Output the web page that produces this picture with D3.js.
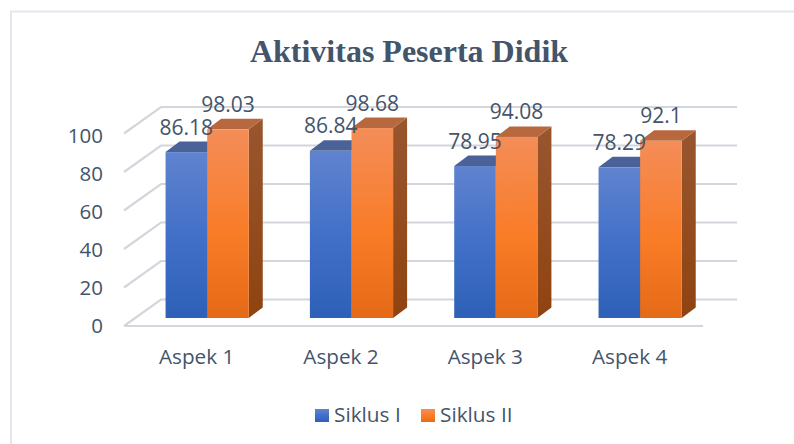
<!DOCTYPE html>
<html>
<head>
<meta charset="utf-8">
<script src="https://cdn.jsdelivr.net/npm/d3@7"></script>
<style>
  html, body { margin: 0; padding: 0; background: #fff; overflow: hidden; }
  svg { display: block; }
</style>
</head>
<body>
<div id="chart"></div>
<script>
const categories = ["Aspek 1", "Aspek 2", "Aspek 3", "Aspek 4"];
const seriesNames = ["Siklus I", "Siklus II"];
const siklus1 = [86.18, 86.84, 78.95, 78.29];
const siklus2 = [98.03, 98.68, 94.08, 92.1];
const yTicks = [0, 20, 40, 60, 80, 100];

const width = 794, height = 444;
const font = "'Open Sans', sans-serif";
const textColor = "#44546a";

// 3d offsets, wall depth and bar depth
const wallDx = 37, wallDy = 26.5;
const barDx = 14, barDy = 10.5;
const barLift = 18.5; // bar base sits this far below the back wall floor

const svg = d3.select("#chart").append("svg")
  .attr("width", width)
  .attr("height", height);

const defs = svg.append("defs");
function gradient(id, stops) {
  const g = defs.append("linearGradient").attr("id", id)
    .attr("x1", 0).attr("y1", 0).attr("x2", 0).attr("y2", 1);
  stops.forEach(function(s) {
    g.append("stop").attr("offset", s[0]).attr("stop-color", s[1]);
  });
}
gradient("front0", [[0, "#6083cf"], [0.5, "#4270c8"], [1, "#2e60b8"]]);
gradient("front1", [[0, "#f48d58"], [0.55, "#f97c27"], [1, "#e56a17"]]);
gradient("side0", [[0, "#46659f"], [1, "#1f4180"]]);
gradient("side1", [[0, "#98562f"], [1, "#8f4310"]]);
const topColor = ["#4a6298", "#b8683e"];

// chart frame, only top and left edges are inside the picture
svg.append("path")
  .attr("d", "M11," + height + "V11.5H" + width)
  .attr("fill", "none")
  .attr("stroke", "#e3e6ec")
  .attr("stroke-width", 2);

svg.append("text")
  .attr("x", 409).attr("y", 62)
  .attr("text-anchor", "middle")
  .attr("font-family", "'Liberation Serif', serif")
  .attr("font-weight", "bold")
  .attr("font-size", 32)
  .attr("fill", textColor)
  .text("Aktivitas Peserta Didik");

const x = d3.scaleBand().domain(categories).range([135, 712.3]);
const xSeries = d3.scaleBand().domain(seriesNames).range([-41.6, 41.6]);
const y = d3.scaleLinear().domain([0, 100]).range([299.5, 107]);
const yLabel = d3.scaleLinear().domain([0, 100]).range([333.3, 142.7]); // tick text baselines

// gridlines on the back wall and the left wall
const grid = svg.append("g")
  .attr("fill", "none")
  .attr("stroke", "#d3d6dc")
  .attr("stroke-width", 2.2);

grid.selectAll("polyline")
  .data(yTicks)
  .enter()
  .append("polyline")
  .attr("points", function(d) {
    const yy = y(d);
    return [[124, yy + wallDy], [124 + wallDx, yy], [737, yy]].join(" ");
  });

// floor front edge
grid.append("line")
  .attr("x1", 124).attr("x2", 703)
  .attr("y1", y(0) + wallDy).attr("y2", y(0) + wallDy);

// bars, one group per category
const groups = svg.selectAll(".group")
  .data(categories)
  .enter()
  .append("g")
  .attr("class", "group")
  .attr("transform", function(d) {
    return "translate(" + (x(d) + x.bandwidth() / 2) + ",0)";
  });

[siklus1, siklus2].forEach(function(values, s) {
  const bx = xSeries(seriesNames[s]);
  const bw = xSeries.bandwidth();
  const bar = groups.append("g").datum(function(d, i) { return values[i]; });

  // side face
  bar.append("path")
    .attr("fill", "url(#side" + s + ")")
    .attr("d", function(v) {
      const t = y(v) + barLift, b = y(0) + barLift;
      return "M" + (bx + bw) + "," + t + "l" + barDx + "," + (-barDy) +
        "L" + (bx + bw + barDx) + "," + (b - barDy) + "L" + (bx + bw) + "," + b + "Z";
    });
  // top face
  bar.append("path")
    .attr("fill", topColor[s])
    .attr("d", function(v) {
      const t = y(v) + barLift;
      return "M" + bx + "," + t + "l" + barDx + "," + (-barDy) + "h" + bw +
        "l" + (-barDx) + "," + barDy + "Z";
    });
  // front face
  bar.append("rect")
    .attr("x", bx)
    .attr("width", bw)
    .attr("y", function(v) { return y(v) + barLift; })
    .attr("height", function(v) { return y(0) - y(v); })
    .attr("fill", "url(#front" + s + ")");
});

// data labels go above all bars
[siklus1, siklus2].forEach(function(values, s) {
  svg.selectAll(".label" + s)
    .data(values)
    .enter()
    .append("text")
    .attr("class", "label" + s)
    .attr("x", function(d, i) {
      return x(categories[i]) + x.bandwidth() / 2 + xSeries(seriesNames[s]) + xSeries.bandwidth() / 2;
    })
    .attr("y", function(d) { return y(d) + barLift - 17.5; })
    .attr("text-anchor", "middle")
    .attr("font-family", font)
    .attr("font-size", 21)
    .attr("fill", textColor)
    .text(function(d) { return d; });
});

// y tick labels
svg.selectAll(".ytick")
  .data(yTicks)
  .enter()
  .append("text")
  .attr("class", "ytick")
  .attr("x", 103)
  .attr("y", function(d) { return yLabel(d); })
  .attr("text-anchor", "end")
  .attr("font-family", font)
  .attr("font-size", 20.5)
  .attr("fill", textColor)
  .text(function(d) { return d; });

// category labels
svg.selectAll(".xtick")
  .data(categories)
  .enter()
  .append("text")
  .attr("class", "xtick")
  .attr("x", function(d) { return x(d) + x.bandwidth() / 2 - 10.5; })
  .attr("y", 363.5)
  .attr("text-anchor", "middle")
  .attr("font-family", font)
  .attr("font-size", 20.7)
  .attr("fill", textColor)
  .text(function(d) { return d; });

// legend
const legendX = [315, 421];
const legend = svg.selectAll(".legend")
  .data(seriesNames)
  .enter()
  .append("g")
  .attr("class", "legend")
  .attr("transform", function(d, i) { return "translate(" + legendX[i] + ",409)"; });

legend.append("rect")
  .attr("width", 14)
  .attr("height", 13)
  .attr("fill", function(d, i) { return "url(#front" + i + ")"; });

legend.append("text")
  .attr("x", 19)
  .attr("y", 12.7)
  .attr("font-family", font)
  .attr("font-size", 20.8)
  .attr("fill", textColor)
  .text(function(d) { return d; });
</script>
</body>
</html>
